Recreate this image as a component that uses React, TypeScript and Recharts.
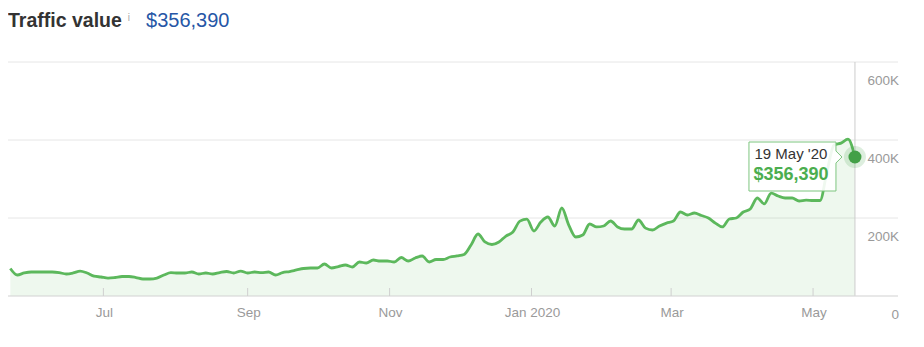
import React from 'react';
import { AreaChart, Area, XAxis, YAxis, CartesianGrid, ReferenceLine, ReferenceDot } from 'recharts';

// traffic value in $K, one reading every 3 days starting 22 May 2019 (day 1)
const values = [
  70.5, 53.8, 59, 61.5, 61.5, 61.5, 61.5, 60, 56.4, 59,
  64, 59, 51, 48.7, 46, 47.4, 50, 50, 47.4, 43.6,
  43.6, 46, 53.8, 60, 59, 59, 61.5, 56.4, 59, 56.4,
  60, 62.8, 59, 64, 59, 61.5, 60, 61.5, 53.8, 60,
  62.8, 66.7, 70.5, 71.8, 71.8, 82, 71.8, 75.6, 79.5, 74.4,
  87.2, 84.6, 92.3, 89.7, 89.7, 87.2, 98.7, 89.7, 97.4, 102.6,
  87.2, 93.6, 93.6, 100, 102.6, 106.4, 130.8, 159, 138.5, 132,
  138.5, 153.8, 164, 192, 197, 166.7, 189.7, 202.6, 179.5, 225.6,
  182, 151.3, 156.4, 184.6, 177, 179.5, 192.3, 177, 171.8, 171.8,
  194.9, 174, 169.2, 179.5, 187, 192.3, 215.4, 207.7, 212.8, 206.4,
  200, 187, 177, 197.4, 200, 215.4, 223, 251.3, 236, 264,
  256.4, 251.3, 251.3, 243.6, 246, 244.9, 244.9, 320, 387, 392,
  402, 356.39,
];
const firstDay = 1;
const stepDays = 3;

// days counted from 21 May 2019
const tickDays = [41, 103, 164, 225, 285, 346];
const tickLabels = ['Jul', 'Sep', 'Nov', 'Jan 2020', 'Mar', 'May'];
const yTicks = [0, 200, 400, 600];
const yTickLabels = ['0', '200K', '400K', '600K'];
const lastLabel = "19 May '20";

const data = values.map((v, i) => ({ day: firstDay + i * stepDays, value: v }));
const last = data[data.length - 1];
const money = (k: number) => '$' + Math.round(k * 1000).toLocaleString('en-US');

const font = '"Liberation Sans", Arial, Helvetica, sans-serif';
const green = '#5cb85c';

const XTick = (props: any) => {
  const { x, y, payload } = props;
  const idx = tickDays.indexOf(payload.value);
  return (
    <g>
      <line x1={x} x2={x} y1={y - 8} y2={y} stroke="#cfcfcf" />
      <text x={x + 1} y={y + 21} textAnchor="middle" fontSize={13.5} fill="#9a9a9a" fontFamily={font}>
        {tickLabels[idx]}
      </text>
    </g>
  );
};

const YTick = (props: any) => {
  const { x, y, payload } = props;
  return (
    <text x={x + 1} y={y + 23} textAnchor="end" fontSize={13.5} fill="#9a9a9a" fontFamily={font}>
      {yTickLabels[yTicks.indexOf(payload.value)]}
    </text>
  );
};

const Marker = (props: any) => {
  const { cx, cy } = props;
  if (cx == null || cy == null) return null;
  return (
    <g>
      <circle cx={cx} cy={cy} r={11} fill="#43a047" fillOpacity={0.18} />
      <circle cx={cx} cy={cy} r={6.5} fill="#43a047" />
      <path
        d={`M${cx - 106},${cy - 15} H${cx - 19} V${cy - 6} L${cx - 13},${cy} L${cx - 19},${cy + 6} V${cy + 34} H${cx - 106} Z`}
        fill="#fff"
        fillOpacity={0.9}
        stroke="#7dc57f"
      />
      <text x={cx - 100.5} y={cy + 2} fontSize={15} fill="#333" fontFamily={font}>{lastLabel}</text>
      <text x={cx - 101.5} y={cy + 22.5} fontSize={18} fontWeight="bold" fill="#4cae4f" fontFamily={font}>
        {money(last.value)}
      </text>
    </g>
  );
};

export default function App() {
  return (
    <div style={{ fontFamily: font, width: 908 }}>
      <div style={{ height: 40, lineHeight: '24px', whiteSpace: 'nowrap' }}>
        <span style={{ fontSize: 19.5, fontWeight: 'bold', color: '#333' }}>Traffic value</span>
        <span style={{ fontSize: 10, color: '#aaa', marginLeft: 6, position: 'relative', top: -6 }}>i</span>
        <span style={{ fontSize: 20, color: '#2656a6', marginLeft: 16 }}>{money(last.value)}</span>
      </div>
      <AreaChart width={900} height={290} data={data} margin={{ top: 14, right: 10, left: 0, bottom: 0 }}>
        <CartesianGrid vertical={false} stroke="#e6e6e6" />
        <XAxis
          dataKey="day"
          type="number"
          domain={[0, 382.5]}
          ticks={tickDays}
          tick={<XTick />}
          tickLine={false}
          tickSize={0}
          tickMargin={0}
          axisLine={{ stroke: '#dddddd' }}
          height={42}
          interval={0}
        />
        <YAxis
          orientation="right"
          mirror
          domain={[0, 600]}
          ticks={yTicks}
          tick={<YTick />}
          tickLine={false}
          tickSize={0}
          tickMargin={0}
          axisLine={false}
        />
        <Area
          type="monotone"
          dataKey="value"
          stroke={green}
          strokeWidth={2.8}
          fill={green}
          fillOpacity={0.1}
          dot={false}
          activeDot={false}
          isAnimationActive={false}
        />
        <ReferenceLine x={last.day} stroke="#cccccc" />
        <ReferenceDot x={last.day} y={last.value} shape={Marker} />
      </AreaChart>
    </div>
  );
}
